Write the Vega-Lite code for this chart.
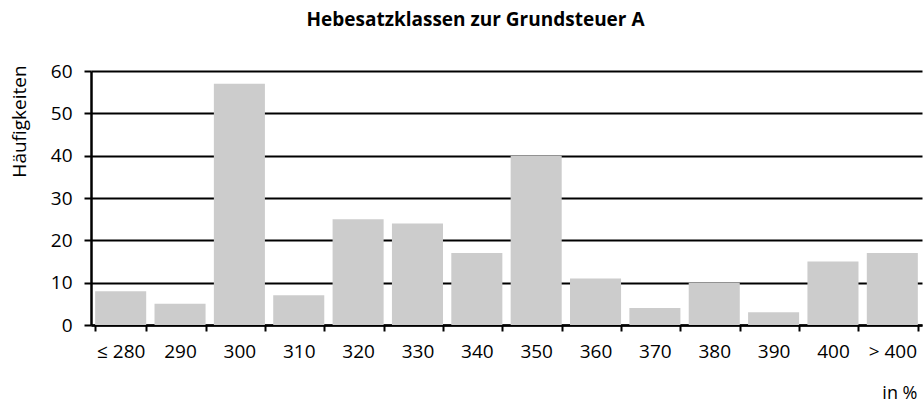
{
  "$schema": "https://vega.github.io/schema/vega-lite/v6.json",
  "width": 831,
  "height": 254,
  "autosize": {"type": "none"},
  "padding": {"left": 91, "top": 71, "right": 2, "bottom": 79},
  "background": "white",
  "title": {
    "text": "Hebesatzklassen zur Grundsteuer A",
    "font": "Open Sans",
    "fontSize": 19,
    "fontWeight": "bold",
    "color": "#000000",
    "anchor": "middle",
    "dx": -31,
    "baseline": "alphabetic",
    "offset": 17
  },
  "data": {
    "values": [
      {"klasse": "≤ 280", "anzahl": 8},
      {"klasse": "290", "anzahl": 5},
      {"klasse": "300", "anzahl": 57},
      {"klasse": "310", "anzahl": 7},
      {"klasse": "320", "anzahl": 25},
      {"klasse": "330", "anzahl": 24},
      {"klasse": "340", "anzahl": 17},
      {"klasse": "350", "anzahl": 40},
      {"klasse": "360", "anzahl": 11},
      {"klasse": "370", "anzahl": 4},
      {"klasse": "380", "anzahl": 10},
      {"klasse": "390", "anzahl": 3},
      {"klasse": "400", "anzahl": 15},
      {"klasse": "> 400", "anzahl": 17}
    ]
  },
  "mark": {"type": "bar", "color": "#cccccc"},
  "encoding": {
    "x": {
      "field": "klasse",
      "type": "nominal",
      "sort": null,
      "scale": {"paddingInner": 0.14, "paddingOuter": 0.07},
      "axis": {
        "title": "in %",
        "titleFont": "Open Sans",
        "titleFontSize": 18,
        "titleFontWeight": "normal",
        "titleColor": "#000000",
        "titleAlign": "right",
        "titleBaseline": "alphabetic",
        "titleAnchor": null,
        "titleX": 826,
        "titleY": 73,
        "labelAngle": 0,
        "labelFont": "Open Sans",
        "labelFontSize": 19,
        "labelColor": "#000000",
        "labelPadding": 11,
        "tickBand": "extent",
        "tickSize": 6,
        "tickWidth": 2,
        "tickColor": "#000000",
        "domainColor": "#000000",
        "domainWidth": 2.5,
        "grid": false
      }
    },
    "y": {
      "field": "anzahl",
      "type": "quantitative",
      "scale": {"domain": [0, 60], "nice": false},
      "axis": {
        "title": "Häufigkeiten",
        "titleFont": "Open Sans",
        "titleFontSize": 19,
        "titleFontWeight": "normal",
        "titleColor": "#000000",
        "titleAngle": -90,
        "titleAlign": "center",
        "titleBaseline": "middle",
        "titleX": -72,
        "titleY": 50,
        "values": [0, 10, 20, 30, 40, 50, 60],
        "labelFont": "Open Sans",
        "labelFontSize": 19,
        "labelColor": "#000000",
        "labelPadding": 12,
        "tickSize": 7,
        "tickWidth": 2,
        "tickColor": "#000000",
        "domainColor": "#000000",
        "domainWidth": 2.5,
        "grid": true,
        "gridColor": "#000000",
        "gridWidth": 1.8,
        "gridOpacity": 1
      }
    }
  },
  "config": {"view": {"stroke": null}}
}
